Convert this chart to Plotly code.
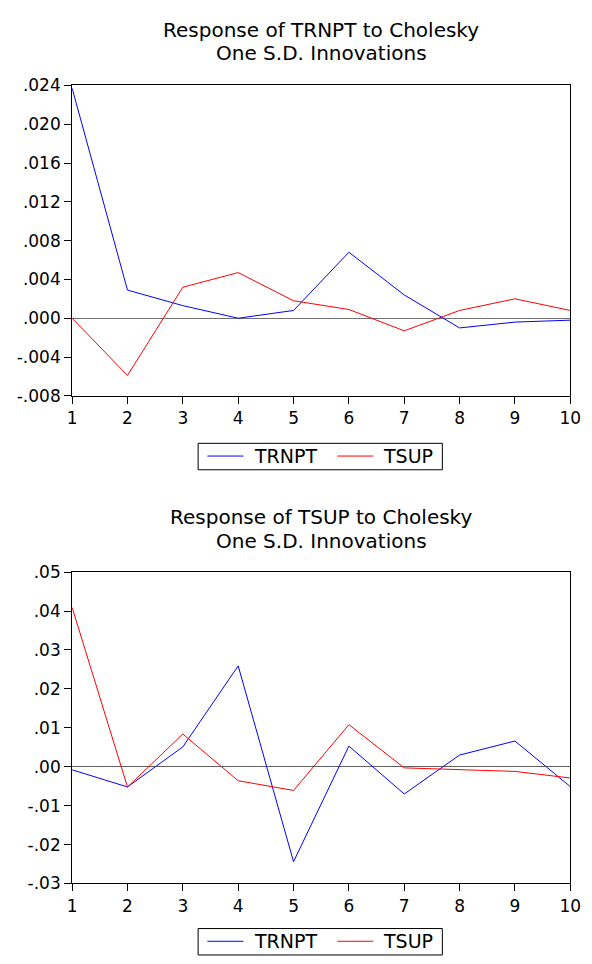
import plotly.graph_objects as go

periods = [1, 2, 3, 4, 5, 6, 7, 8, 9, 10]

# Response of TRNPT
trnpt_to_trnpt = [0.0237, 0.0029, 0.0013, 0.0000, 0.0008, 0.0068, 0.0024, -0.0010, -0.0004, -0.0002]
trnpt_to_tsup = [0.0000, -0.0059, 0.0032, 0.0047, 0.0018, 0.0009, -0.0013, 0.0008, 0.0020, 0.0008]

# Response of TSUP
tsup_to_trnpt = [-0.0008, -0.0052, 0.0051, 0.0259, -0.0244, 0.0053, -0.0070, 0.0030, 0.0066, -0.0051]
tsup_to_tsup = [0.0409, -0.0052, 0.0084, -0.0036, -0.0061, 0.0108, -0.0003, -0.0007, -0.0012, -0.0029]

top_ticks = [-0.008, -0.004, 0.0, 0.004, 0.008, 0.012, 0.016, 0.020, 0.024]
top_ticktext = ["-.008", "-.004", ".000", ".004", ".008", ".012", ".016", ".020", ".024"]
bot_ticks = [-0.03, -0.02, -0.01, 0.0, 0.01, 0.02, 0.03, 0.04, 0.05]
bot_ticktext = ["-.03", "-.02", "-.01", ".00", ".01", ".02", ".03", ".04", ".05"]

titles_top = ["Response of TRNPT to Cholesky", "One S.D. Innovations"]
titles_bot = ["Response of TSUP to Cholesky", "One S.D. Innovations"]
series_names = ["TRNPT", "TSUP"]
colors = ["#0000FF", "#FF0000"]

W, H = 592, 964
FONT = "DejaVu Sans, Verdana, sans-serif"

fig = go.Figure()
for name, col, vals in zip(series_names, colors, [trnpt_to_trnpt, trnpt_to_tsup]):
    fig.add_trace(go.Scatter(x=periods, y=vals, mode="lines", name=name,
                             line=dict(color=col, width=1), xaxis="x", yaxis="y",
                             showlegend=False))
for name, col, vals in zip(series_names, colors, [tsup_to_trnpt, tsup_to_tsup]):
    fig.add_trace(go.Scatter(x=periods, y=vals, mode="lines", name=name,
                             line=dict(color=col, width=1), xaxis="x2", yaxis="y2",
                             showlegend=False))


def px_x(p):
    return p / W


def px_y(p):
    return 1 - p / H


xdom = [px_x(69), px_x(581)]
axis_common = dict(showline=True, linecolor="black", linewidth=1, mirror=True,
                   ticks="outside", ticklen=7, tickcolor="black", tickwidth=1,
                   showgrid=False, tickfont=dict(family=FONT, size=17, color="black"))

fig.update_layout(
    width=W, height=H, margin=dict(l=0, r=0, t=0, b=0),
    paper_bgcolor="white", plot_bgcolor="white",
    font=dict(family=FONT, color="black"),
    showlegend=False,
    xaxis=dict(domain=xdom, anchor="y", range=[1, 10], tickvals=periods,
               zeroline=False, **axis_common),
    yaxis=dict(domain=[px_y(394), px_y(77)], anchor="x", range=[-0.008, 0.024],
               tickvals=top_ticks, ticktext=top_ticktext,
               zeroline=True, zerolinecolor="#707070", zerolinewidth=1, **axis_common),
    xaxis2=dict(domain=xdom, anchor="y2", range=[1, 10], tickvals=periods,
                zeroline=False, **axis_common),
    yaxis2=dict(domain=[px_y(892), px_y(574)], anchor="x2", range=[-0.03, 0.05],
                tickvals=bot_ticks, ticktext=bot_ticktext,
                zeroline=True, zerolinecolor="#606060", zerolinewidth=1, **axis_common),
)

# Titles
cx = px_x(325)
for txt, yy in zip(titles_top, [20, 44]):
    fig.add_annotation(text=txt, x=cx, y=px_y(yy), xref="paper", yref="paper",
                       showarrow=False, xanchor="center", yanchor="middle",
                       font=dict(family=FONT, size=20, color="black"))
for txt, yy in zip(titles_bot, [518, 542]):
    fig.add_annotation(text=txt, x=cx, y=px_y(yy), xref="paper", yref="paper",
                       showarrow=False, xanchor="center", yanchor="middle",
                       font=dict(family=FONT, size=20, color="black"))


# Legend boxes (EViews style): box, short line samples, labels
def add_legend(top):
    fig.add_shape(type="rect", xref="paper", yref="paper",
                  x0=px_x(198.5), x1=px_x(449.5), y0=px_y(top + 27), y1=px_y(top),
                  line=dict(color="black", width=1), fillcolor="white", layer="above")
    yc = top + 13
    for name, col, lx, tx in zip(series_names, colors, [208, 341.5], [253.5, 386.5]):
        fig.add_shape(type="line", xref="paper", yref="paper",
                      x0=px_x(lx), x1=px_x(lx + 37), y0=px_y(yc), y1=px_y(yc),
                      line=dict(color=col, width=1), layer="above")
        fig.add_annotation(text=name, x=px_x(tx), y=px_y(yc), xref="paper", yref="paper",
                           showarrow=False, xanchor="left", yanchor="middle",
                           font=dict(family=FONT, size=19, color="black"))


add_legend(442.5)
add_legend(938)

fig.write_html("out.html")
